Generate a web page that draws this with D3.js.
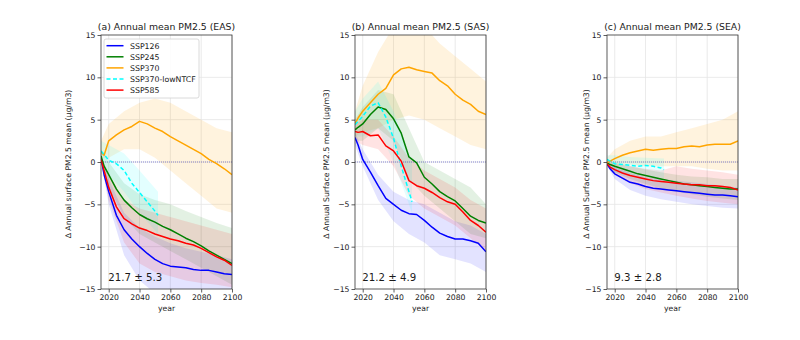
<!DOCTYPE html>
<html><head><meta charset="utf-8">
<script src="https://cdn.jsdelivr.net/npm/d3@7"></script>
<style>
body{margin:0;background:#fff}
text{font-family:"DejaVu Sans",sans-serif;fill:#1a1a1a}
</style></head>
<body><svg id="chart" width="800" height="340"></svg>
<script>
// ---------- data ----------
const years     = [2015,2017,2020,2025,2030,2035,2040,2045,2050,2055,2060,2065,2070,2075,2080,2085,2090,2095,2100];
const ntcfYears = [2015,2017,2020,2025,2030,2035,2040,2045,2050,2052];
const bandYears = [2015,2020,2030,2040,2050,2060,2070,2080,2090,2100];
const ntcfBandYears = [2015,2020,2030,2040,2052];
const xTicks = [2020,2040,2060,2080,2100];
const yTicks = [-15,-10,-5,0,5,10,15];
const scenarios = ["SSP126","SSP245","SSP370","SSP370-lowNTCF","SSP585"];
const colors = ["#0000ff","#008000","#ffa500","#00ffff","#ff0000"];
const titles = ["(a) Annual mean PM2.5 (EAS)","(b) Annual mean PM2.5 (SAS)","(c) Annual mean PM2.5 (SEA)"];
const yLabels = ["Δ Annual surface PM2.5 mean (µg/m3)","Δ Annual Surface PM2.5 mean (µg/m3)","Δ Annual Surface PM2.5 mean (µg/m3)"];
const stats = ["21.7 ± 5.3","21.2 ± 4.9","9.3 ± 2.8"];

// EAS
const easSSP126 = [0.5,-1.5,-3.5,-6.3,-8.0,-9.1,-10.0,-10.8,-11.5,-12.0,-12.3,-12.4,-12.5,-12.7,-12.8,-12.8,-13.0,-13.2,-13.3];
const easSSP245 = [0.7,-0.5,-1.5,-3.2,-4.5,-5.4,-6.2,-6.7,-7.1,-7.6,-8.0,-8.5,-9.0,-9.4,-9.9,-10.5,-11.0,-11.5,-12.0];
const easSSP370 = [1.2,0.8,2.5,3.2,3.8,4.2,4.8,4.5,4.0,3.6,3.0,2.5,2.0,1.5,1.0,0.3,-0.2,-0.8,-1.5];
const easLowNTCF = [1.3,0.9,0.2,-0.2,-1.0,-2.5,-3.6,-4.7,-5.8,-6.3];
const easSSP585 = [0.3,-1.0,-3.0,-5.3,-6.7,-7.3,-7.8,-8.1,-8.5,-8.8,-9.1,-9.3,-9.6,-9.8,-10.2,-10.7,-11.2,-11.6,-12.2];
const easSSP126Up = [0.8,-2,-6,-7.8,-8.8,-9.6,-10.2,-10.6,-11,-11.5];
const easSSP126Lo = [0.2,-5,-11,-14,-15.5,-16,-16,-16,-16,-16];
const easSSP245Up = [1.5,0,-2.5,-3.8,-4.5,-5.0,-5.8,-6.5,-7.2,-7.8];
const easSSP245Lo = [0,-3,-6.5,-8.5,-9.5,-10.5,-11.5,-12.5,-13.5,-14.5];
const easSSP370Up = [2.5,4.5,6,7,7.5,7,6,5,4,3.5];
const easSSP370Lo = [0.5,0.5,1.5,1.5,0.5,-1,-2.5,-4,-5.5,-6];
const easLowNTCFUp = [2.5,2,1,-1,-3.5];
const easLowNTCFLo = [0,-1.5,-3.5,-6,-8.5];
const easSSP585Up = [0.8,-1.5,-4.5,-5.5,-6,-6.5,-7,-7.5,-8,-8.5];
const easSSP585Lo = [0,-4.5,-9.5,-12,-13,-13.5,-14,-14.3,-14.5,-14.8];

// SAS
const sasSSP126 = [2.9,2.0,0.3,-1.2,-2.8,-4.3,-5.0,-5.7,-6.1,-6.2,-6.9,-7.7,-8.4,-8.8,-9.1,-9.1,-9.3,-9.6,-10.6];
const sasSSP245 = [3.8,4.1,4.5,5.6,6.5,6.2,5.1,3.4,0.6,-0.1,-1.8,-2.6,-3.5,-4.1,-4.6,-5.5,-6.4,-6.9,-7.2];
const sasSSP370 = [4.5,5.2,6.0,7.0,8.0,8.7,10.3,11.0,11.2,10.9,10.7,10.5,9.6,9.0,8.0,7.3,6.8,6.0,5.6];
const sasLowNTCF = [4.4,4.8,5.4,6.6,7.0,5.3,2.8,-0.5,-3.5,-4.7];
const sasSSP585 = [3.6,3.5,3.6,3.1,3.2,1.9,1.3,0.1,-2.2,-2.8,-3.1,-3.6,-4.2,-4.7,-5.0,-5.9,-6.9,-7.5,-8.3];
const sasSSP126Up = [3.5,1.5,-1.5,-3.5,-4.5,-5,-6,-7,-7.5,-8.5];
const sasSSP126Lo = [2,-0.5,-4.5,-7,-8.5,-9.5,-11,-11.5,-12,-13];
const sasSSP245Up = [5,6.5,8.5,8,4,0,-1,-2,-3,-5];
const sasSSP245Lo = [2.5,2.5,4,2.5,-2,-4,-5.5,-7,-8.5,-9];
const sasSSP370Up = [6,9,13,16,17,16,14,12.5,11,9.5];
const sasSSP370Lo = [3,3.5,4,5,5.5,5,4,3,2,1.5];
const sasLowNTCFUp = [6,7.5,9.5,6,0];
const sasLowNTCFLo = [3,3,4,0,-6];
const sasSSP585Up = [4.5,5,5,3,0.5,-1,-2,-3,-4.5,-5.5];
const sasSSP585Lo = [2.5,2,1.5,-0.5,-4,-5.5,-6.5,-7.5,-9,-10.5];

// SEA
const seaSSP126 = [-0.2,-0.8,-1.4,-1.9,-2.4,-2.6,-2.9,-3.1,-3.2,-3.3,-3.4,-3.5,-3.6,-3.7,-3.8,-3.9,-3.9,-4.0,-4.1];
const seaSSP245 = [-0.1,-0.3,-0.5,-0.8,-1.1,-1.4,-1.6,-1.8,-2.0,-2.2,-2.4,-2.6,-2.7,-2.8,-2.9,-3.0,-3.1,-3.2,-3.2];
const seaSSP370 = [-0.1,0.1,0.4,0.8,1.1,1.3,1.5,1.4,1.5,1.6,1.6,1.8,1.9,1.8,2.0,2.1,2.1,2.1,2.5];
const seaLowNTCF = [0.3,0.1,-0.2,-0.3,-0.4,-0.5,-0.4,-0.5,-0.7,-0.9];
const seaSSP585 = [-0.2,-0.6,-0.9,-1.3,-1.6,-1.8,-2.0,-2.2,-2.3,-2.4,-2.5,-2.6,-2.7,-2.7,-2.8,-2.8,-2.9,-3.0,-3.3];
const seaSSP126Up = [0,-0.6,-1.3,-1.8,-2.0,-2.2,-2.4,-2.6,-2.8,-3.0];
const seaSSP126Lo = [-0.4,-2.0,-3.3,-4.0,-4.4,-4.7,-5.0,-5.2,-5.4,-5.5];
const seaSSP245Up = [0.2,0,-0.5,-0.9,-1.2,-1.5,-1.7,-1.8,-2.0,-2.0];
const seaSSP245Lo = [-0.4,-1.2,-2.0,-2.6,-3.1,-3.5,-3.8,-4.1,-4.3,-4.5];
const seaSSP370Up = [0.5,1.5,2.5,3,3,3.5,4,4.5,5,6];
const seaSSP370Lo = [-0.5,-0.5,-0.3,-0.5,-0.5,-0.5,-0.5,-0.8,-1,-1];
const seaLowNTCFUp = [0.8,0.8,0.6,0.5,0.4];
const seaLowNTCFLo = [-0.4,-1.2,-1.5,-1.7,-1.9];
const seaSSP585Up = [0,-0.2,-0.5,-0.8,-1,-0.5,-0.8,-1,-1.2,-1.5];
const seaSSP585Lo = [-0.4,-1.5,-2.5,-3.2,-3.6,-4,-4.3,-4.6,-4.8,-5];

const panelLines = [
  [easSSP126,easSSP245,easSSP370,easLowNTCF,easSSP585],
  [sasSSP126,sasSSP245,sasSSP370,sasLowNTCF,sasSSP585],
  [seaSSP126,seaSSP245,seaSSP370,seaLowNTCF,seaSSP585]];
const panelUp = [
  [easSSP126Up,easSSP245Up,easSSP370Up,easLowNTCFUp,easSSP585Up],
  [sasSSP126Up,sasSSP245Up,sasSSP370Up,sasLowNTCFUp,sasSSP585Up],
  [seaSSP126Up,seaSSP245Up,seaSSP370Up,seaLowNTCFUp,seaSSP585Up]];
const panelLo = [
  [easSSP126Lo,easSSP245Lo,easSSP370Lo,easLowNTCFLo,easSSP585Lo],
  [sasSSP126Lo,sasSSP245Lo,sasSSP370Lo,sasLowNTCFLo,sasSSP585Lo],
  [seaSSP126Lo,seaSSP245Lo,seaSSP370Lo,seaLowNTCFLo,seaSSP585Lo]];

// ---------- drawing ----------
const svg = d3.select("#chart");
const lefts = [101, 355, 607];
const PW = 131, PT = 35, PB = 289;
const yLabX = [70.5, 329, 589];
const fmt = d => d < 0 ? "\u2212" + Math.abs(d) : String(d);

lefts.forEach((L, p) => {
  const x = d3.scaleLinear().domain([2015, 2100]).range([L, L + PW]);
  const y = d3.scaleLinear().domain([-15, 15]).range([PB, PT]);
  const g = svg.append("g");
  const clipId = "clip" + p;
  svg.append("clipPath").attr("id", clipId).append("rect")
    .attr("x", L).attr("y", PT).attr("width", PW).attr("height", PB - PT);

  // grid
  g.selectAll(".vg").data(xTicks).join("line")
    .attr("x1", d => x(d)).attr("x2", d => x(d)).attr("y1", PT).attr("y2", PB)
    .attr("stroke", "#e4e4e4").attr("stroke-width", 0.8);
  g.selectAll(".hg").data(yTicks.slice(1, -1)).join("line")
    .attr("x1", L).attr("x2", L + PW).attr("y1", d => y(d)).attr("y2", d => y(d))
    .attr("stroke", "#e4e4e4").attr("stroke-width", 0.8);

  const plot = g.append("g").attr("clip-path", `url(#${clipId})`);

  // bands
  scenarios.forEach((s, i) => {
    const by = i === 3 ? ntcfBandYears : bandYears;
    const up = panelUp[p][i], lo = panelLo[p][i];
    const area = d3.area().x((d, k) => x(by[k])).y0((d, k) => y(lo[k])).y1((d, k) => y(up[k]));
    plot.append("path").datum(up).attr("d", area)
      .attr("fill", colors[i]).attr("fill-opacity", i === 2 ? 0.13 : 0.11).attr("stroke", "none");
  });

  // zero line
  plot.append("line").attr("x1", L).attr("x2", L + PW).attr("y1", y(0)).attr("y2", y(0))
    .attr("stroke", "#5a5ac8").attr("stroke-width", 0.7).attr("stroke-dasharray", "1,1");

  // lines
  scenarios.forEach((s, i) => {
    const yrs = i === 3 ? ntcfYears : years;
    const vals = panelLines[p][i];
    const line = d3.line().x((d, k) => x(yrs[k])).y(d => y(d));
    plot.append("path").datum(vals).attr("d", line)
      .attr("fill", "none").attr("stroke", colors[i]).attr("stroke-width", 1.5)
      .attr("stroke-dasharray", i === 3 ? "4,2.5" : null).attr("stroke-linejoin", "round");
  });

  // frame
  g.append("rect").attr("x", L).attr("y", PT).attr("width", PW).attr("height", PB - PT)
    .attr("fill", "none").attr("stroke", "#333").attr("stroke-width", 0.8);

  // axes
  const ax = g.append("g").attr("transform", `translate(0,${PB})`)
    .call(d3.axisBottom(x).tickValues(xTicks).tickSize(3.5).tickPadding(2).tickFormat(d3.format("d")));
  const ay = g.append("g").attr("transform", `translate(${L},0)`)
    .call(d3.axisLeft(y).tickValues(yTicks).tickSize(3.5).tickPadding(2).tickFormat(fmt));
  [ax, ay].forEach(a => {
    a.select(".domain").remove();
    a.selectAll("line").attr("stroke", "#333").attr("stroke-width", 0.8);
    a.selectAll("text").attr("font-size", 7.7).attr("fill", "#1a1a1a")
      .attr("font-family", "DejaVu Sans, sans-serif");
  });

  // title
  g.append("text").attr("x", L + PW / 2).attr("y", 30).attr("text-anchor", "middle")
    .attr("font-size", 9.3).text(titles[p]);
  // x label
  g.append("text").attr("x", L + PW / 2).attr("y", 311).attr("text-anchor", "middle")
    .attr("font-size", 7.7).text("year");
  // y label
  g.append("text").attr("transform", `translate(${yLabX[p]},164) rotate(-90)`)
    .attr("text-anchor", "middle").attr("font-size", 7.7).text(yLabels[p]);
  // stat
  g.append("text").attr("x", L + 7.3).attr("y", 281).attr("font-size", 10.2).text(stats[p]);

  // legend
  if (p === 0) {
    const lg = g.append("g");
    lg.append("rect").attr("x", 104).attr("y", 39).attr("width", 95).attr("height", 59)
      .attr("rx", 2).attr("fill", "#fff").attr("fill-opacity", 0.85)
      .attr("stroke", "#d0d0d0").attr("stroke-width", 0.8);
    scenarios.forEach((s, i) => {
      const yy = 45.7 + i * 11.1;
      lg.append("line").attr("x1", 106.5).attr("x2", 123.5).attr("y1", yy).attr("y2", yy)
        .attr("stroke", colors[i]).attr("stroke-width", 1.5)
        .attr("stroke-dasharray", i === 3 ? "4,2.5" : null);
      lg.append("text").attr("x", 130).attr("y", yy + 2.8).attr("font-size", 7.8).text(s);
    });
  }
});
</script></body></html>
